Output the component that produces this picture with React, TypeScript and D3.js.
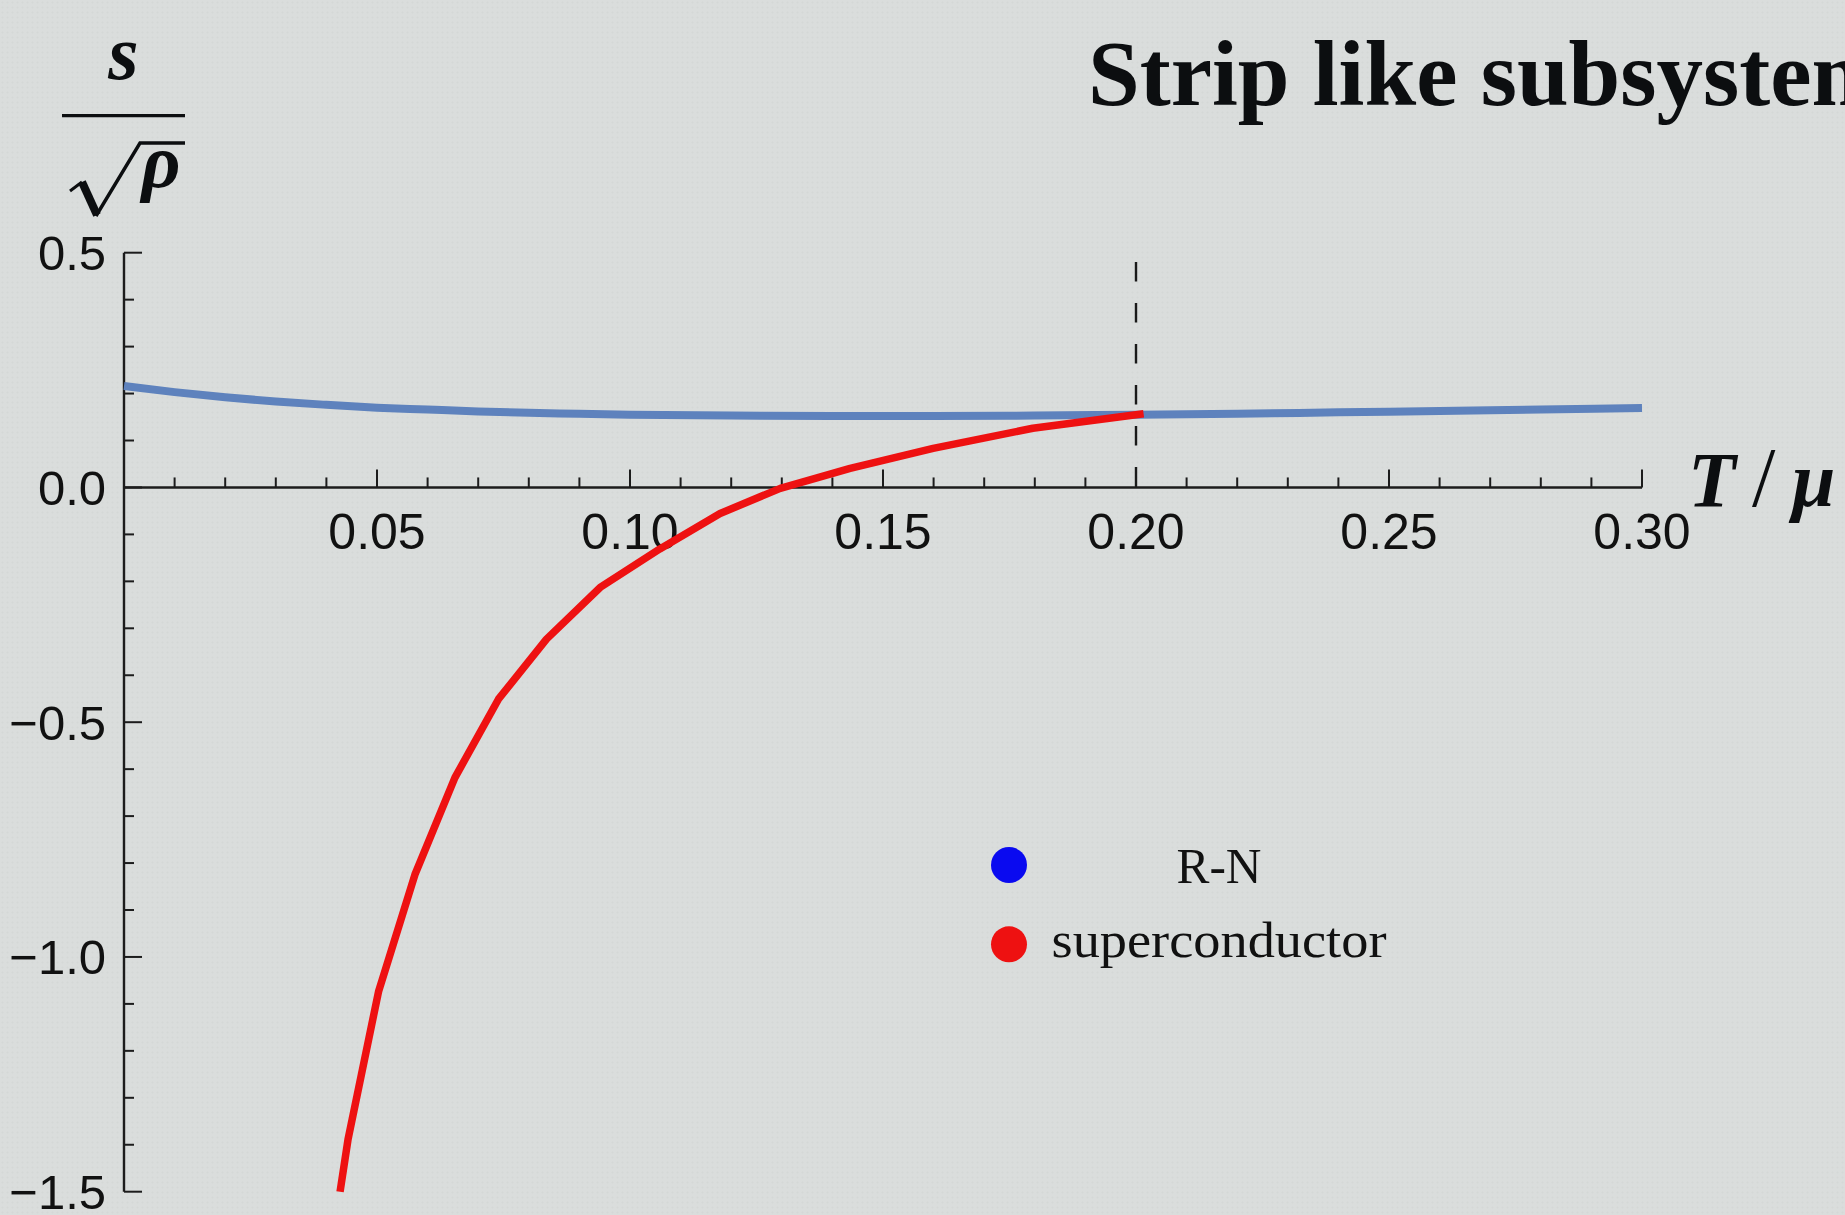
import React from "react";
import * as d3 from "d3";

const W = 1845;
const H = 1215;

// Normal (Reissner–Nordström) phase: entropy density vs T/mu
const tempRN = [0, 0.01, 0.02, 0.03, 0.04, 0.05, 0.06, 0.07, 0.08, 0.09, 0.1, 0.12, 0.14, 0.16, 0.18, 0.2, 0.22, 0.24, 0.26, 0.28, 0.3];
const entropyRN = [0.216, 0.203, 0.192, 0.183, 0.176, 0.17, 0.166, 0.162, 0.159, 0.157, 0.155, 0.153, 0.152, 0.152, 0.153, 0.155, 0.157, 0.16, 0.163, 0.166, 0.169];

// Superconducting phase (sampled points)
const tempSC = [0.0427, 0.0443, 0.0503, 0.0575, 0.0654, 0.074, 0.0835, 0.0941, 0.1059, 0.1178, 0.1297, 0.1435, 0.1599, 0.1796, 0.2015];
const entropySC = [-1.5, -1.387, -1.074, -0.8245, -0.618, -0.451, -0.323, -0.213, -0.131, -0.0555, -0.002, 0.0406, 0.0832, 0.126, 0.157];

const criticalT = 0.2;
const criticalTop = 0.48;

const xMajorTicks = [0.05, 0.1, 0.15, 0.2, 0.25, 0.3];
const xTickLabels = ["0.05", "0.10", "0.15", "0.20", "0.25", "0.30"];
const yMajorTicks = [0.5, 0, -0.5, -1, -1.5];
const yTickLabels = ["0.5", "0.0", "\u22120.5", "\u22121.0", "\u22121.5"];

const legendLabels = ["R-N", "superconductor"];
const legendColors = ["#0a0af0", "#ee1111"];

const titleText = "Strip like subsystem";

export default function App() {
  const x = d3.scaleLinear().domain([0, 0.3]).range([124, 1642]);
  const y = d3.scaleLinear().domain([-1.5, 0.5]).range([1191.7, 252.7]);

  const rnLine = d3
    .line<number>()
    .x((_, i) => x(tempRN[i]))
    .y((d) => y(d))
    .curve(d3.curveMonotoneX)(entropyRN) as string;

  const scLine = d3
    .line<number>()
    .x((_, i) => x(tempSC[i]))
    .y((d) => y(d))
    .curve(d3.curveLinear)(entropySC) as string;

  const xMinor = d3.range(1, 31).map((i) => i / 100);
  const yMinor = d3.range(-15, 6).map((i) => i / 10);

  const axisColor = "#1c1c1c";
  const tickFont = "'Liberation Sans', Arial, Helvetica, sans-serif";
  const mathFont = "'Liberation Serif', 'Times New Roman', serif";

  const isMajor = (v: number, step: number) => Math.abs(Math.round(v / step) * step - v) < 1e-6;

  return (
    <svg
      width={W}
      height={H}
      viewBox={`0 0 ${W} ${H}`}
      style={{ position: "absolute", left: 0, top: 0, display: "block" }}
    >
      <defs>
        <pattern id="grain" width="5" height="5" patternUnits="userSpaceOnUse">
          <circle cx="2.5" cy="2.5" r="1.1" fill="#cfd2d1" opacity="0.55" />
        </pattern>
      </defs>
      <rect x={0} y={0} width={W} height={H} fill="#dadddc" />
      <rect x={0} y={0} width={W} height={H} fill="url(#grain)" />

      {/* title */}
      <text
        x={1088}
        y={105}
        fontFamily={mathFont}
        fontWeight="bold"
        fontSize={93}
        fill="#0c0e10"
      >
        {titleText}
      </text>

      {/* y-axis label: s / sqrt(rho) */}
      <g fill="#0c0e10">
        <text x={123.5} y={79} textAnchor="middle" fontFamily={mathFont} fontWeight="bold" fontStyle="italic" fontSize={78}>
          s
        </text>
        <line x1={62} x2={185} y1={115.7} y2={115.7} stroke="#0c0e10" strokeWidth={3.3} />
        <path d="M70,191 L82,182" stroke="#0c0e10" strokeWidth={3} fill="none" />
        <path d="M82,182 L97,215" stroke="#0c0e10" strokeWidth={8} fill="none" strokeLinecap="butt" />
        <path d="M96,216 L140,143 L185,143" stroke="#0c0e10" strokeWidth={3.4} fill="none" strokeLinejoin="miter" />
        <text x={161} y={187} textAnchor="middle" fontFamily={mathFont} fontWeight="bold" fontStyle="italic" fontSize={76}>
          ρ
        </text>
      </g>

      {/* x-axis label: T / mu */}
      <text y={506} fontFamily={mathFont} fontWeight="bold" fontStyle="italic" fontSize={78} fill="#0c0e10">
        <tspan x={1688}>T</tspan>
        <tspan x={1752} fontWeight="normal" fontStyle="normal" fontSize={84}>/</tspan>
        <tspan x={1792}>μ</tspan>
      </text>

      {/* axes */}
      <line x1={x(0)} x2={x(0.3)} y1={y(0)} y2={y(0)} stroke={axisColor} strokeWidth={2.4} />
      <line x1={x(0)} x2={x(0)} y1={y(0.5)} y2={y(-1.5)} stroke={axisColor} strokeWidth={2.4} />

      {xMinor.map((t) => (
        <line
          key={`xt${t}`}
          x1={x(t)}
          x2={x(t)}
          y1={y(0)}
          y2={y(0) - (isMajor(t, 0.05) ? 18 : 10)}
          stroke={axisColor}
          strokeWidth={2}
        />
      ))}
      {yMinor.map((v) => (
        <line
          key={`yt${v}`}
          x1={x(0)}
          x2={x(0) + (isMajor(v, 0.5) ? 18 : 10)}
          y1={y(v)}
          y2={y(v)}
          stroke={axisColor}
          strokeWidth={2}
        />
      ))}

      {xMajorTicks.map((t, i) => (
        <text
          key={`xl${t}`}
          x={x(t)}
          y={y(0) + 62}
          textAnchor="middle"
          fontFamily={tickFont}
          fontSize={50}
          fill="#111"
        >
          {xTickLabels[i]}
        </text>
      ))}
      {yMajorTicks.map((v, i) => (
        <text
          key={`yl${v}`}
          x={106}
          y={y(v) + 17.5}
          textAnchor="end"
          fontFamily={tickFont}
          fontSize={49}
          fill="#111"
        >
          {yTickLabels[i]}
        </text>
      ))}

      {/* critical temperature marker */}
      <line
        x1={x(criticalT)}
        x2={x(criticalT)}
        y1={y(criticalTop)}
        y2={y(0)}
        stroke="#1a1a1a"
        strokeWidth={2.4}
        strokeDasharray="19.5 21.5"
      />

      {/* curves */}
      <path d={rnLine} fill="none" stroke="#5e82bd" strokeWidth={8} />
      <path d={scLine} fill="none" stroke="#ee1111" strokeWidth={7.5} strokeLinejoin="round" />

      {/* legend */}
      {legendLabels.map((lab, i) => (
        <g key={lab}>
          <circle cx={1009} cy={865 + i * 79.3} r={18} fill={legendColors[i]} />
          <text
            x={1219}
            y={883 + i * 74}
            textAnchor="middle"
            fontFamily={mathFont}
            fontSize={51}
            fill="#111"
            textLength={i === 0 ? 85 : 335}
            lengthAdjust="spacingAndGlyphs"
          >
            {lab}
          </text>
        </g>
      ))}
    </svg>
  );
}
